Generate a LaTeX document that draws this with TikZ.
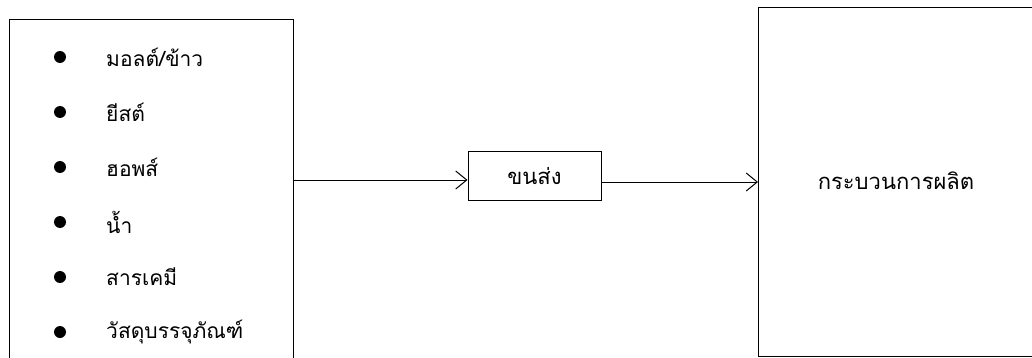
\documentclass[tikz,border=0pt]{standalone}
\usepackage{fontspec}
\newfontfamily\thaifont[Script=Thai]{Loma}
\usetikzlibrary{arrows.meta}

\begin{document}
\begin{tikzpicture}[x=1pt, y=-1pt,
			panel/.style={draw, line width=1pt, inner sep=0pt, anchor=north west},
			haulbox/.style={draw, line width=1pt, minimum width=133pt, minimum height=48pt, font=\thaifont\fontsize{22}{26}\selectfont},
			item/.style={anchor=west, inner sep=0pt, font=\thaifont\fontsize{22}{26}\selectfont},
			dot/.style={circle, fill, inner sep=0pt, minimum size=12pt},
			arrow/.style={-{Straight Barb[length=11pt, width=18pt]}, line width=1pt}
			]
			\useasboundingbox (0,0) rectangle (1032,358);
			\clip (0,0) rectangle (1032,358);
			% raw materials (box runs off the bottom)
			\node[panel, minimum width=284pt, minimum height=390pt] (inputs) at (9,19) {};
			\foreach \name/\txt [count=\i from 0] in {malt/{มอลต์/ข้าว}, yeast/ยีสต์, hops/ฮอพส์, water/น้ำ, chem/สารเคมี, pack/วัสดุบรรจุภัณฑ์}{
				\node[dot] (\name dot) at (60,57+55*\i) {};
				\node[item, font=\thaifont\fontsize{21}{25}\selectfont] (\name) at (106,57+55*\i) {\txt};
			}
			% transport
			\node[haulbox] (haul) at (534.5,176) {ขนส่ง};
			% production (box runs off the right side)
			\node[panel, minimum width=300pt, minimum height=349pt] (plant) at (758,7) {};
			\node[item, anchor=center] (plantlabel) at (896,181) {กระบวนการผลิต};
			\draw[arrow] ([yshift=-4pt]inputs.east |- haul.west) -- ([yshift=-4pt]haul.west);
			\draw[arrow] ([yshift=-6pt]haul.east) -- ([yshift=-6pt]haul.east -| plant.west);
		\end{tikzpicture}
\end{document}
